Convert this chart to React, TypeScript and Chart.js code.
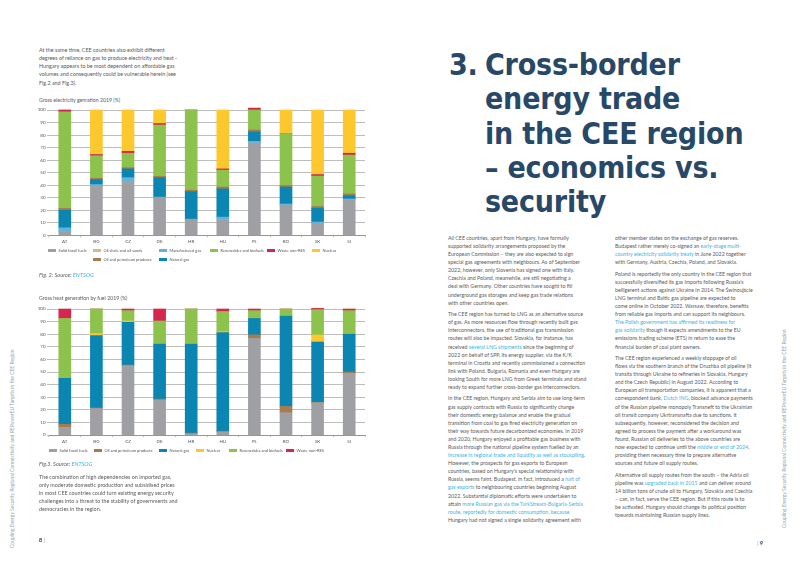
import React, { useEffect, useRef } from "react";
import { Chart, registerables } from "chart.js";

Chart.register(...registerables);

// ---------- DATA ----------
const countries = ["AT", "BG", "CZ", "DE", "HR", "HU", "PL", "RO", "SK", "SI"];

// Gross electricity generation 2019 (%), stacked bottom -> top
const elecSolidFossil = [3, 39, 43, 29.5, 12.8, 12.5, 73.5, 24, 9.6, 28.2];
const elecOilShale = [0, 0, 0, 0, 0, 0, 0, 0, 0, 0];
const elecManufacturedGas = [3, 1.5, 3, 1, 0, 2, 1.5, 1, 1, 0.8];
const elecNaturalGas = [14, 4, 7, 15.5, 22, 22.5, 7.5, 13.5, 11, 2.5];
const elecOilPetroleum = [1.5, 1, 1, 1, 1.2, 1.5, 1.5, 1.2, 1.4, 1.5];
const elecRenewables = [77, 18, 11.5, 41, 64, 13.5, 16, 41.5, 24.3, 31];
const elecWaste = [1.5, 1, 1.5, 1.2, 0, 1, 1.5, 0, 1.2, 1.5];
const elecNuclear = [0, 35.5, 33, 10.8, 0, 47, 0, 18.8, 51.5, 34.5];

// Gross heat generation by fuel 2019 (%), stacked bottom -> top
const heatSolidFossil = [6, 21, 55, 27.8, 1, 2.5, 76.7, 17.7, 25.7, 49];
const heatOilPetroleum = [2.5, 0.5, 0.5, 0.7, 0.5, 0.5, 2.8, 5, 0.3, 1];
const heatNaturalGas = [36.5, 57.5, 34, 43.7, 70.7, 78.2, 13, 71.7, 47.8, 30];
const heatNuclear = [0, 1.5, 1, 0, 0, 0.8, 0, 0, 5.6, 0];
const heatRenewables = [47.5, 19.5, 8.2, 18.3, 27.8, 16, 6.2, 5.6, 20.1, 18.7];
const heatWaste = [7.5, 0, 1.3, 9.5, 0, 2, 1.3, 0, 1, 1.3];

const C_SOLID = "#9fa0a3";
const C_SHALE = "#d9b58e";
const C_MANUF = "#62b2dc";
const C_GAS = "#0b85b2";
const C_OIL = "#a77b4e";
const C_REN = "#8dc24c";
const C_WASTE = "#d6264f";
const C_NUC = "#fcc82e";

const elecSeries = [
  { label: "Solid fossil fuels", data: elecSolidFossil, color: C_SOLID },
  { label: "Oil shale and oil sands", data: elecOilShale, color: C_SHALE },
  { label: "Manufactured gas", data: elecManufacturedGas, color: C_MANUF },
  { label: "Natural gas", data: elecNaturalGas, color: C_GAS },
  { label: "Oil and petroleum products", data: elecOilPetroleum, color: C_OIL },
  { label: "Renewables and biofuels", data: elecRenewables, color: C_REN },
  { label: "Waste non-RES", data: elecWaste, color: C_WASTE },
  { label: "Nuclear", data: elecNuclear, color: C_NUC },
];

const heatSeries = [
  { label: "Solid fossil fuels", data: heatSolidFossil, color: C_SOLID },
  { label: "Oil and petroleum products", data: heatOilPetroleum, color: C_OIL },
  { label: "Natural gas", data: heatNaturalGas, color: C_GAS },
  { label: "Nuclear", data: heatNuclear, color: C_NUC },
  { label: "Renewables and biofuels", data: heatRenewables, color: C_REN },
  { label: "Waste non-RES", data: heatWaste, color: C_WASTE },
];

// ---------- TEXT ----------
const leftIntro = [
  "At the same time, CEE countries also exhibit different",
  "degrees of reliance on gas to produce electricity and heat -",
  "Hungary appears to be most dependent on affordable gas",
  "volumes and consequently could be vulnerable herein (see",
  "Fig.2 and Fig.3).",
];
const leftOutro = [
  "The combination of high dependencies on imported gas,",
  "only moderate domestic production and subsidised prices",
  "in most CEE countries could turn existing energy security",
  "challenges into a threat to the stability of governments and",
  "democracies in the region.",
];
const titleLines = ["Cross-border", "energy trade", "in the CEE region", "– economics vs.", "security"];

const col1 = [
  [
    "All CEE countries, apart from Hungary, have formally",
    "supported solidarity arrangements proposed by the",
    "European Commission – they are also expected to sign",
    "special gas agreements with neighbours. As of September",
    "2022, however, only Slovenia has signed one with Italy.",
    "Czechia and Poland, meanwhile, are still negotiating a",
    "deal with Germany. Other countries have sought to fill",
    "underground gas storages and keep gas trade relations",
    "with other countries open.",
  ],
  [
    "The CEE region has turned to LNG as an alternative source",
    "of gas. As more resources flow through recently built gas",
    "interconnectors, the use of traditional gas transmission",
    "routes will also be impacted. Slovakia, for instance, has",
    "received {several LNG shipments} since the beginning of",
    "2022 on behalf of SPP, its energy supplier, via the K/K",
    "terminal in Croatia and recently commissioned a connection",
    "link with Poland. Bulgaria, Romania and even Hungary are",
    "looking South for more LNG from Greek terminals and stand",
    "ready to expand further cross-border gas interconnectors.",
  ],
  [
    "In the CEE region, Hungary and Serbia aim to use long-term",
    "gas supply contracts with Russia to significantly change",
    "their domestic energy balance and enable the gradual",
    "transition from coal to gas fired electricity generation on",
    "their way towards future decarbonized economies. In 2019",
    "and 2020, Hungary enjoyed a profitable gas business with",
    "Russia through the national pipeline system fuelled by an",
    "{increase in regional trade and liquidity as well as stockpiling}.",
    "However, the prospects for gas exports to European",
    "countries, based on Hungary's special relationship with",
    "Russia, seems faint. Budapest, in fact, introduced a {halt of}",
    "{gas exports} to neighbouring countries beginning August",
    "2022. Substantial diplomatic efforts were undertaken to",
    "attain {more Russian gas via the TurkStream-Bulgaria-Serbia}",
    "{route, reportedly for domestic consumption, because}",
    "Hungary had not signed a single solidarity agreement with",
  ],
];
const col2 = [
  [
    "other member states on the exchange of gas reserves.",
    "Budapest rather merely co-signed an {early-stage multi-}",
    "{country electricity solidarity treaty} in June 2022 together",
    "with Germany, Austria, Czechia, Poland, and Slovakia.",
  ],
  [
    "Poland is reportedly the only country in the CEE region that",
    "successfully diversified its gas imports following Russia's",
    "belligerent actions against Ukraine in 2014. The Świnoujście",
    "LNG terminal and Baltic gas pipeline are expected to",
    "come online in October 2022. Warsaw, therefore, benefits",
    "from reliable gas imports and can support its neighbours.",
    "{The Polish government has affirmed its readiness for}",
    "{gas solidarity} though it expects amendments to the EU",
    "emissions trading scheme (ETS) in return to ease the",
    "financial burden of coal plant owners.",
  ],
  [
    "The CEE region experienced a weekly stoppage of oil",
    "flows via the southern branch of the Druzhba oil pipeline (it",
    "transits through Ukraine to refineries in Slovakia, Hungary",
    "and the Czech Republic) in August 2022. According to",
    "European oil transportation companies, it is apparent that a",
    "correspondent bank, {Dutch ING}, blocked advance payments",
    "of the Russian pipeline monopoly Transneft to the Ukrainian",
    "oil transit company Ukrtransnafta due to sanctions. It",
    "subsequently, however, reconsidered the decision and",
    "agreed to process the payment after a workaround was",
    "found. Russian oil deliveries to the above countries are",
    "now expected to continue until the {middle or end of 2024},",
    "providing them necessary time to prepare alternative",
    "sources and future oil supply routes.",
  ],
  [
    "Alternative oil supply routes from the south – the Adria oil",
    "pipeline was {upgraded back in 2015} and can deliver around",
    "14 billion tons of crude oil to Hungary, Slovakia and Czechia",
    "– can, in fact, serve the CEE region. But if this route is to",
    "be activated, Hungary should change its political position",
    "towards maintaining Russian supply lines.",
  ],
];
const spineText = "Coupling Energy Security Regional Connectivity and REPowerEU Targets in the CEE Region";

// ---------- STYLE ----------
const FONT = "Lato, 'Open Sans', sans-serif";
const TEXT = "#5a5a5a";
const LINK = "#3db3e3";
const NAVY = "#284868";
const GRID = "#a0a0a0";

function renderLine(line: string) {
  const parts = line.split(/(\{[^}]*\})/g).filter((p) => p.length);
  return parts.map((p, i) =>
    p.startsWith("{") ? (
      <span key={i} style={{ color: LINK }}>
        {p.slice(1, -1)}
      </span>
    ) : (
      <span key={i}>{p}</span>
    )
  );
}

function Lines({ lines, left, top, lh, size }: any) {
  return (
    <div style={{ position: "absolute", left, top, fontSize: size, lineHeight: lh + "px", color: TEXT, whiteSpace: "nowrap" }}>
      {lines.map((l: string, i: number) => (
        <div key={i} style={{ height: lh }}>
          {renderLine(l)}
        </div>
      ))}
    </div>
  );
}

function Column({ paras, left, top }: any) {
  return (
    <div style={{ position: "absolute", left, top, fontSize: 5.25, lineHeight: "8.1px", color: TEXT, whiteSpace: "nowrap" }}>
      {paras.map((p: string[], pi: number) => (
        <div key={pi} style={{ marginBottom: 3.4 }}>
          {p.map((l, i) => (
            <div key={i} style={{ height: 8.1 }}>
              {renderLine(l)}
            </div>
          ))}
        </div>
      ))}
    </div>
  );
}

function StackedChart({ series, left, top, width, height, xAxisH }: any) {
  const ref = useRef<HTMLCanvasElement | null>(null);
  useEffect(() => {
    const chart = new Chart(ref.current as HTMLCanvasElement, {
      type: "bar",
      data: {
        labels: countries,
        datasets: series.map((s: any) => ({
          label: s.label,
          data: s.data,
          backgroundColor: s.color,
          borderWidth: 0,
          barThickness: 12,
          clip: false,
        })),
      },
      options: {
        responsive: false,
        animation: false,
        events: [],
        layout: { padding: { top: 6, right: 5, left: 0, bottom: 0 } },
        plugins: { legend: { display: false }, tooltip: { enabled: false } },
        scales: {
          x: {
            stacked: true,
            grid: { display: true, drawOnChartArea: false, tickLength: 2, color: GRID, lineWidth: 0.7 },
            border: { display: true, color: "#8c8c8c", width: 0.8 },
            ticks: { font: { family: FONT, size: 4.5 }, color: "#555", padding: 2, maxRotation: 0, autoSkip: false },
            afterFit: (s: any) => {
              s.height = xAxisH;
            },
          },
          y: {
            stacked: true,
            min: 0,
            max: 100,
            ticks: { stepSize: 10, font: { family: FONT, size: 4.5 }, color: "#555", padding: 1.5 },
            grid: { color: GRID, lineWidth: 0.7, tickLength: 2 },
            border: { display: false },
            afterFit: (s: any) => {
              s.width = 19;
            },
          },
        },
      } as any,
    });
    return () => chart.destroy();
  }, []);
  return (
    <canvas
      ref={ref}
      width={width}
      height={height}
      style={{ position: "absolute", left, top, width, height }}
    />
  );
}

function Legend({ series, pos }: any) {
  return (
    <>
      {series.map((s: any, i: number) => (
        <div
          key={i}
          style={{
            position: "absolute",
            left: pos[i][0],
            top: pos[i][1] - 3,
            height: 6,
            display: "flex",
            alignItems: "center",
            fontSize: 4,
            color: "#555",
            whiteSpace: "nowrap",
          }}
        >
          <span style={{ display: "inline-block", width: 7.5, height: 3, background: s.color, marginRight: 3 }} />
          {s.label}
        </div>
      ))}
    </>
  );
}

const elecLegendPos = [
  [48, 250.7],
  [93, 250.7],
  [159, 250.7],
  [159, 259.3],
  [93, 259.3],
  [210, 250.7],
  [267, 250.7],
  [312, 250.7],
];
const heatLegendPos = [
  [49, 450.3],
  [94, 450.3],
  [159, 450.3],
  [196, 450.3],
  [229, 450.3],
  [286, 450.3],
];

function Spine({ left, top, height }: any) {
  return (
    <div
      style={{
        position: "absolute",
        left,
        top,
        height,
        writingMode: "vertical-rl",
        transform: "rotate(180deg)",
        fontSize: 5,
        color: "#9aa4ad",
        whiteSpace: "nowrap",
        lineHeight: "6px",
        textAlign: "left",
      }}
    >
      {spineText}
    </div>
  );
}

const titleStyle: any = {
  position: "absolute",
  top: 47.4,
  fontFamily: "'DejaVu Sans', sans-serif",
  fontWeight: 700,
  fontSize: 27,
  lineHeight: "31.36px",
  color: NAVY,
  whiteSpace: "nowrap",
  letterSpacing: "-0.2px",
  transform: "scaleY(1.1)",
  transformOrigin: "0 0",
};

export default function App() {
  return (
    <div
      style={{
        position: "absolute",
        left: 0,
        top: 0,
        width: 802,
        height: 567,
        background: "#fff",
        overflow: "hidden",
        fontFamily: FONT,
      }}
    >
      <Lines lines={leftIntro} left={39} top={45.9} lh={8.2} size={5.4} />

      <div style={{ position: "absolute", left: 39, top: 96.5, fontSize: 5.2, color: TEXT, lineHeight: "6px", whiteSpace: "nowrap" }}>
        Gross electricity genration 2019 (%)
      </div>
      <StackedChart series={elecSeries} left={30} top={104} width={340} height={146} xAxisH={14.7} />
      <Legend series={elecSeries} pos={elecLegendPos} />
      <div style={{ position: "absolute", left: 39, top: 272, fontSize: 5.6, fontStyle: "italic", color: TEXT, lineHeight: "6px", whiteSpace: "nowrap" }}>
        Fig. 2: Source: <span style={{ color: LINK }}>ENTSOG</span>
      </div>

      <div style={{ position: "absolute", left: 39, top: 295.3, fontSize: 5.2, color: TEXT, lineHeight: "6px", whiteSpace: "nowrap" }}>
        Gross heat generation by fuel 2019 (%)
      </div>
      <StackedChart series={heatSeries} left={30} top={303} width={340} height={146} xAxisH={14} />
      <Legend series={heatSeries} pos={heatLegendPos} />
      <div style={{ position: "absolute", left: 39, top: 461.3, fontSize: 5.6, fontStyle: "italic", color: TEXT, lineHeight: "6px", whiteSpace: "nowrap" }}>
        Fig.3. Source: <span style={{ color: LINK }}>ENTSOG</span>
      </div>

      <Lines lines={leftOutro} left={39} top={472.7} lh={8} size={5.4} />

      <div style={{ position: "absolute", left: 39, top: 537, fontSize: 5.5, color: "#333", lineHeight: "6px", fontWeight: 700 }}>
        8 <span style={{ fontWeight: 400, color: "#999" }}>|</span>
      </div>
      <div style={{ position: "absolute", left: 757, top: 539.7, fontSize: 5.5, color: "#333", lineHeight: "6px", fontWeight: 700 }}>
        <span style={{ fontWeight: 400, color: "#999" }}>|</span> 9
      </div>

      <Spine left={9} top={335} height={213} />
      <Spine left={781} top={316} height={212} />

      {/* Title */}
      <div style={{ ...titleStyle, left: 449 }}>3.</div>
      <div style={{ ...titleStyle, left: 485 }}>
        {titleLines.map((t, i) => (
          <div key={i}>{t}</div>
        ))}
      </div>

      <Column paras={col1} left={448} top={233.9} />
      <Column paras={col2} left={615} top={233.9} />
    </div>
  );
}
